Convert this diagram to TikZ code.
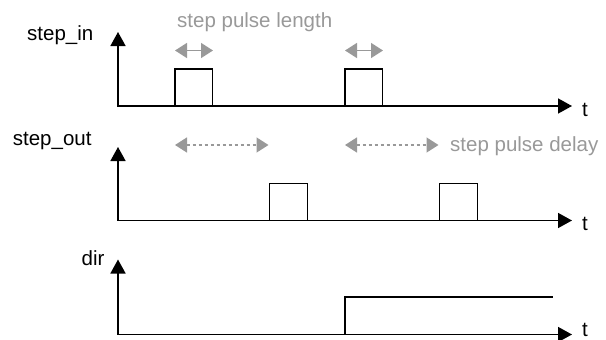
\documentclass[tikz,border=0pt]{standalone}
\usepackage{fontspec}
\setmainfont{Liberation Sans}
\usetikzlibrary{arrows.meta}
\definecolor{annogray}{HTML}{999999}
\begin{document}
\begin{tikzpicture}[x=1pt,y=-1pt,
  axis/.style={line width=1.6pt,line join=miter,{Triangle[length=14pt,width=15pt]}-{Triangle[length=14pt,width=15pt]}},
  sig/.style={line width=1.6pt,line join=miter},
  anno/.style={draw=annogray,line width=1.5pt,{Triangle[length=12pt,width=15pt]}-{Triangle[length=12pt,width=15pt]}},
  annodash/.style={anno,dash pattern=on 3.5pt off 2.5pt},
  lbl/.style={font=\fontsize{20.5}{24}\selectfont,anchor=base west,inner sep=0pt},
  glbl/.style={lbl,text=annogray},
]
\useasboundingbox (0,0) rectangle (606,340);

% ---- row 1: step_in
\coordinate (y1) at (118,32);
\coordinate (o1) at (118,106);
\coordinate (x1) at (572,106);
\draw[axis] (y1) -- (o1) -- (x1);
\node[lbl] (lin) at (27,40.5) {step\_in};
\node[lbl] (t1) at (582,116) {t};
\draw[sig] (175,106) -- (175,69) -- (212.5,69) -- (212.5,106);
\draw[sig] (345,106) -- (345,69) -- (382.5,69) -- (382.5,106);
\node[glbl] (plen) at (177,27.5) {step pulse length};
\coordinate (a1l) at (175,50.5);
\coordinate (a1r) at (213,50.5);
\coordinate (a2l) at (345,50.5);
\coordinate (a2r) at (383,50.5);
\draw[anno] (a1l) -- (a1r);
\draw[anno] (a2l) -- (a2r);

% ---- row 2: step_out
\coordinate (y2) at (118,147);
\coordinate (o2) at (118,220.5);
\coordinate (x2) at (572,220.5);
\draw[axis] (y2) -- (o2) -- (x2);
\node[lbl] (lout) at (12.7,145) {step\_out};
\node[lbl] (t2) at (582,230.5) {t};
\draw[sig] (269.5,220.5) -- (269.5,183.5) -- (307.5,183.5) -- (307.5,220.5);
\draw[sig] (439.5,220.5) -- (439.5,183.5) -- (477.5,183.5) -- (477.5,220.5);
\coordinate (d1l) at (175,145);
\coordinate (d1r) at (268.5,145);
\coordinate (d2l) at (345,145);
\coordinate (d2r) at (438.5,145);
\draw[annodash] (d1l) -- (d1r);
\draw[annodash] (d2l) -- (d2r);
\node[glbl] (pdel) at (450,151.5) {step pulse delay};

% ---- row 3: dir
\coordinate (y3) at (118,259.5);
\coordinate (o3) at (118,334.5);
\coordinate (x3) at (572,334.5);
\draw[axis] (y3) -- (o3) -- (x3);
\node[lbl] (ldir) at (81.5,265) {dir};
\node[lbl] (t3) at (582,336) {t};
\draw[sig] (345,334.5) -- (345,297) -- (553,297);
\end{tikzpicture}
\end{document}
